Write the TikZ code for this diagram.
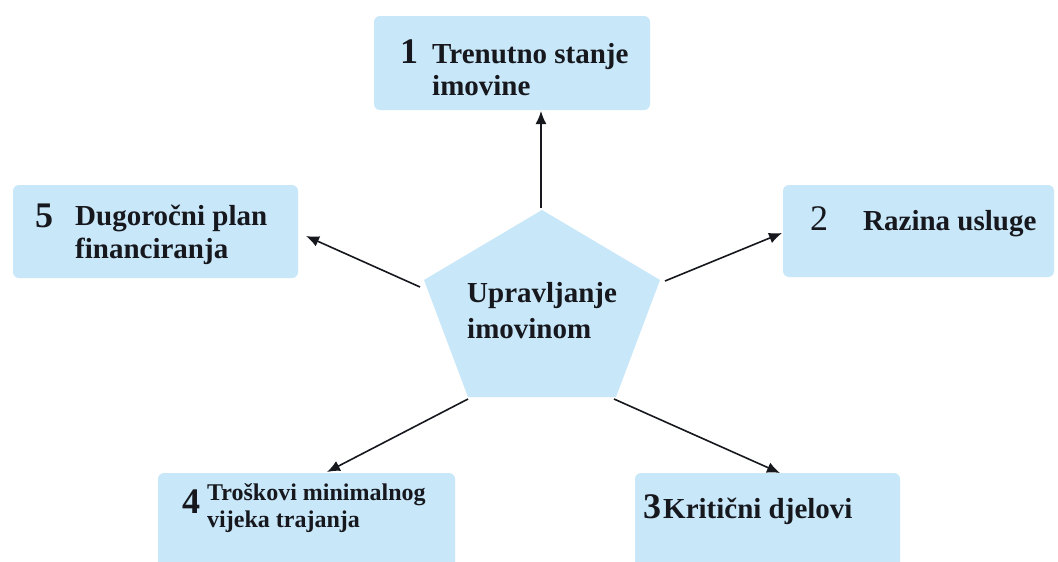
\documentclass[tikz,border=0pt]{standalone}
\usepackage{fontspec}
\setmainfont{Liberation Serif}
\usetikzlibrary{arrows.meta}
\definecolor{boxblue}{RGB}{200,231,249}
\definecolor{inkc}{RGB}{22,24,30}
\begin{document}
\begin{tikzpicture}[x=1pt,y=-1pt,
  box/.style={fill=boxblue, draw=none, rounded corners=6pt, inner sep=0pt},
  lbl/.style={anchor=base west, inner sep=0pt, text=inkc, font=\bfseries\fontsize{29}{35}\selectfont},
  small/.style={anchor=base west, inner sep=0pt, text=inkc, font=\bfseries\fontsize{24}{28}\selectfont},
  num/.style={anchor=base west, inner sep=0pt, text=inkc, font=\bfseries\fontsize{36}{40}\selectfont},
  numr/.style={anchor=base west, inner sep=0pt, text=inkc, font=\fontsize{36}{40}\selectfont},
  arr/.style={draw=inkc, line width=1.6pt, -{Latex[length=13pt,width=11pt]}}]
\clip (0,0) rectangle (1058,562);
\fill[white] (0,0) rectangle (1058,562);
% boxes
\node[box, minimum width=276pt, minimum height=94pt] (b1) at (512,63) {};
\node[box, minimum width=285pt, minimum height=93pt] (b5) at (155.5,231.5) {};
\node[box, minimum width=271pt, minimum height=92pt] (b2) at (918.5,231) {};
\node[box, minimum width=297pt, minimum height=110pt] (b4) at (306.5,528) {};
\node[box, minimum width=265pt, minimum height=110pt] (b3) at (767.5,528) {};
% pentagon
\coordinate (pT) at (542,210);
\coordinate (pR) at (660,280);
\coordinate (pBR) at (616,397);
\coordinate (pBL) at (468,397);
\coordinate (pL) at (424,280);
\fill[boxblue] (pT) -- (pR) -- (pBR) -- (pBL) -- (pL) -- cycle;
% texts
\node[num] (n1) at (400,63) {1};
\node[lbl] (t1a) at (432,63) {Trenutno stanje};
\node[lbl] (t1b) at (432,95) {imovine};
\node[numr] (n2) at (810,230) {2};
\node[lbl] (t2) at (863,230) {Razina usluge};
\node[num] (n5) at (35,227) {5};
\node[lbl] (t5a) at (75,225) {Dugoročni plan};
\node[lbl] (t5b) at (75,258) {financiranja};
\node[num] (n4) at (182,513) {4};
\node[small] (t4a) at (207,500) {Troškovi minimalnog};
\node[small] (t4b) at (207,527) {vijeka trajanja};
\node[num] (n3) at (643,518) {3};
\node[lbl] (t3) at (663,518) {Kritični djelovi};
\node[lbl] (tca) at (467,302) {Upravljanje};
\node[lbl] (tcb) at (467,338) {imovinom};
% arrow ends
\coordinate (a1s) at (541,208);
\coordinate (a1e) at (541,111);
\coordinate (a2s) at (665,281);
\coordinate (a2e) at (782,233);
\coordinate (a5s) at (420,287);
\coordinate (a5e) at (306,236);
\coordinate (a4s) at (468,399);
\coordinate (a4e) at (327,472);
\coordinate (a3s) at (614,399);
\coordinate (a3e) at (780,473);
\draw[arr] (a1s) -- (a1e);
\draw[arr] (a2s) -- (a2e);
\draw[arr] (a5s) -- (a5e);
\draw[arr] (a4s) -- (a4e);
\draw[arr] (a3s) -- (a3e);
\end{tikzpicture}
\end{document}
